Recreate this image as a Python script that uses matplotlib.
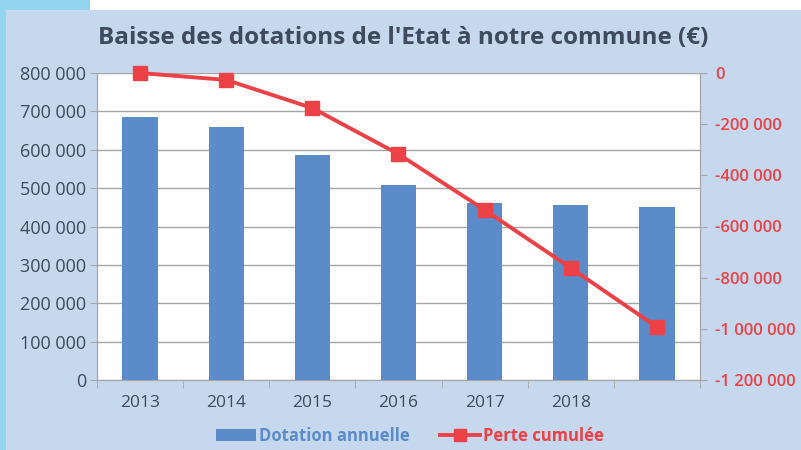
import numpy as np
import matplotlib.pyplot as plt
from matplotlib.patches import Rectangle
from matplotlib.lines import Line2D
from matplotlib.ticker import FuncFormatter

# --------------------------------------------------
# Data
# --------------------------------------------------
years = ["2013", "2014", "2015", "2016", "2017", "2018", ""]
dotation = [685000, 659000, 586000, 508000, 461000, 456000, 451000]
perte = [0, -27000, -137000, -317000, -535000, -762000, -993000]

left_ticks = [0, 100000, 200000, 300000, 400000, 500000, 600000, 700000, 800000]
right_ticks = [0, -200000, -400000, -600000, -800000, -1000000, -1200000]

BG = "#c6d8ee"
BLUE = "#5b8bc9"
RED = "#ec4146"
DARK = "#3f4a5c"
GRID = "#a6a6a6"


def fmt(v, pos=None):
    s = f"{abs(int(v)):,}".replace(",", " ")
    return ("-" if v < 0 else "") + s


def main():
    plt.rcParams["font.family"] = ["Open Sans", "DejaVu Sans"]

    fig = plt.figure(figsize=(8.01, 4.5), dpi=100)
    fig.patch.set_facecolor(BG)

    # decoration: cyan strip on the left and white band on top
    fig.patches.append(Rectangle((0, 0), 6 / 801, 1, transform=fig.transFigure,
                                 facecolor="#93d4ee", edgecolor="none", zorder=0))
    fig.patches.append(Rectangle((0, 1 - 10 / 450), 90 / 801, 10 / 450,
                                 transform=fig.transFigure,
                                 facecolor="#93d4ee", edgecolor="none", zorder=0))
    fig.patches.append(Rectangle((90 / 801, 1 - 10 / 450), 1, 10 / 450,
                                 transform=fig.transFigure,
                                 facecolor="white", edgecolor="none", zorder=0))

    # plot area: x 97..700, y 73..380 px
    ax = fig.add_axes([97 / 801, 1 - 380 / 450, 603 / 801, 307 / 450])
    ax.set_facecolor("white")
    x = np.arange(len(years))

    ax.bar(x, dotation, width=0.41, color=BLUE, zorder=3)
    ax.set_xlim(-0.5, len(years) - 0.5)
    ax.set_ylim(0, 800000)
    ax.set_yticks(left_ticks)
    ax.yaxis.set_major_formatter(FuncFormatter(fmt))
    ax.grid(axis="y", color=GRID, linewidth=1, zorder=0)
    ax.set_xticks(x)
    ax.set_xticklabels(years)
    ax.set_xticks(np.arange(len(years) + 1) - 0.5, minor=True)
    ax.tick_params(axis="x", which="major", length=0, pad=11,
                   labelsize=12.5, labelcolor=DARK)
    ax.tick_params(axis="x", which="minor", length=6, color=GRID, direction="out")
    ax.tick_params(axis="y", length=5, color=GRID, labelsize=13,
                   labelcolor=DARK, pad=3)
    ax.spines["top"].set_visible(False)
    for side in ["left", "bottom", "right"]:
        ax.spines[side].set_color(GRID)

    ax2 = ax.twinx()
    ax2.plot(x, perte, color=RED, linewidth=2.8, marker="s",
             markersize=10, zorder=4, clip_on=False)
    ax2.set_ylim(-1200000, 0)
    ax2.set_yticks(right_ticks)
    ax2.yaxis.set_major_formatter(FuncFormatter(fmt))
    ax2.tick_params(axis="y", length=5, color=GRID, labelsize=12,
                    labelcolor=RED, pad=6)
    for lbl in ax2.get_yticklabels():
        lbl.set_fontweight("semibold")
    ax2.spines["top"].set_visible(False)
    for side in ["left", "bottom", "right"]:
        ax2.spines[side].set_color(GRID)

    fig.text(403 / 801, 1 - 38 / 450,
             "Baisse des dotations de l'Etat à notre commune (€)",
             ha="center", va="center", fontsize=17.5, fontweight="bold",
             color=DARK)

    # legend
    handles = [Rectangle((0, 0), 1, 1, facecolor=BLUE),
               Line2D([0], [0], color=RED, linewidth=2.8, marker="s",
                      markersize=8)]
    leg = fig.legend(handles, ["Dotation annuelle", "Perte cumulée"],
                     loc="center", bbox_to_anchor=(410 / 801, 1 - 436 / 450),
                     ncol=2, frameon=False, fontsize=12,
                     handlelength=2.4, handleheight=0.7,
                     columnspacing=1.8, handletextpad=0.2)
    for txt, c in zip(leg.get_texts(), [BLUE, RED]):
        txt.set_color(c)
        txt.set_fontweight("bold")

    fig.savefig("out.png", dpi=100, facecolor=BG)


if __name__ == "__main__":
    main()
